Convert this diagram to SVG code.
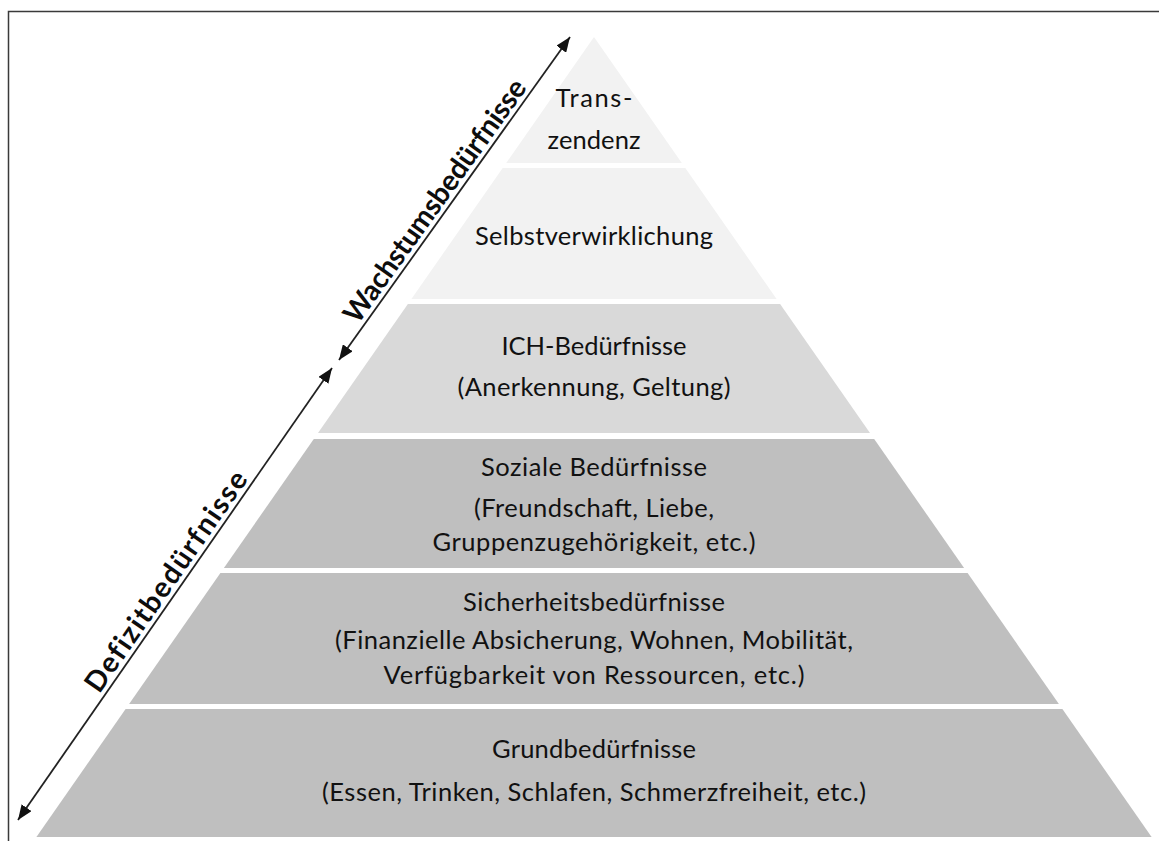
<svg xmlns="http://www.w3.org/2000/svg" width="1159" height="841" viewBox="0 0 1159 841">
  <style>
    .lbl { font-family: Lato, "Open Sans", "Liberation Sans", sans-serif; font-size: 25.5px; fill: #111; text-anchor: middle; }
    .side { font-family: Lato, "Open Sans", "Liberation Sans", sans-serif; font-size: 28.5px; font-weight: bold; fill: #0d0d0d; text-anchor: middle; font-variant-ligatures: none; }
    .light { fill: #f2f2f2; }
    .mid { fill: #d9d9d9; }
    .dark { fill: #bfbfbf; }
    .arrow { stroke: #222; stroke-width: 1.8; fill: none; marker-start: url(#head); marker-end: url(#head); }
  </style>
  <defs>
    <marker id="head" markerUnits="userSpaceOnUse" markerWidth="16" markerHeight="12" refX="15" refY="6" orient="auto-start-reverse">
      <path d="M0,0 L15,6 L0,12 Z" fill="#111"/>
    </marker>
  </defs>

  <rect width="1159" height="841" fill="#fff"/>
  <!-- frame (top and left edges) -->
  <path d="M8.5,841 V11.5 H1159" fill="none" stroke="#3a3a3a" stroke-width="1.5"/>

  <!-- pyramid levels, top to bottom -->
  <g id="level-transzendenz">
    <polygon class="light" points="594,37 681.8,163 506.2,163"/>
    <text class="lbl" x="594" y="107" textLength="77">Trans-</text>
    <text class="lbl" x="594" y="149" textLength="93">zendenz</text>
  </g>
  <g id="level-selbstverwirklichung">
    <polygon class="light" points="502.7,168 685.3,168 776.6,299 411.4,299"/>
    <text class="lbl" x="594" y="245" textLength="238">Selbstverwirklichung</text>
  </g>
  <g id="level-ich">
    <polygon class="mid" points="407.9,304 780.1,304 870,433 318,433"/>
    <text class="lbl" x="594" y="355" textLength="185">ICH-Bedürfnisse</text>
    <text class="lbl" x="594" y="396" textLength="273">(Anerkennung, Geltung)</text>
  </g>
  <g id="level-sozial">
    <polygon class="dark" points="313.8,439 874.2,439 964.1,568 223.9,568"/>
    <text class="lbl" x="594" y="476" textLength="226">Soziale Bedürfnisse</text>
    <text class="lbl" x="594" y="517" textLength="240">(Freundschaft, Liebe,</text>
    <text class="lbl" x="594" y="551" textLength="323">Gruppenzugehörigkeit, etc.)</text>
  </g>
  <g id="level-sicherheit">
    <polygon class="dark" points="220.4,573 967.6,573 1058.9,704 129.1,704"/>
    <text class="lbl" x="594" y="611" textLength="262">Sicherheitsbedürfnisse</text>
    <text class="lbl" x="594" y="649" textLength="518">(Finanzielle Absicherung, Wohnen, Mobilität,</text>
    <text class="lbl" x="594" y="684" textLength="421">Verfügbarkeit von Ressourcen, etc.)</text>
  </g>
  <g id="level-grund">
    <polygon class="dark" points="125.6,709 1062.4,709 1151.6,837 36.4,837"/>
    <text class="lbl" x="594" y="758" textLength="204">Grundbedürfnisse</text>
    <text class="lbl" x="594" y="801" textLength="544">(Essen, Trinken, Schlafen, Schmerzfreiheit, etc.)</text>
  </g>

  <!-- side arrows -->
  <g id="connectors">
    <line class="arrow" x1="339" y1="360" x2="570" y2="37"/>
    <line class="arrow" x1="18" y1="820" x2="332" y2="368"/>
  </g>

  <!-- side captions -->
  <g id="caption-wachstum" transform="translate(446.8,209.4) rotate(-54.4)">
    <text class="side" x="0" y="-5" textLength="292">Wachstumsbedürfnisse</text>
  </g>
  <g id="caption-defizit" transform="translate(178,589.7) rotate(-55.2)">
    <text class="side" x="0" y="-5" textLength="262">Defizitbedürfnisse</text>
  </g>
</svg>
